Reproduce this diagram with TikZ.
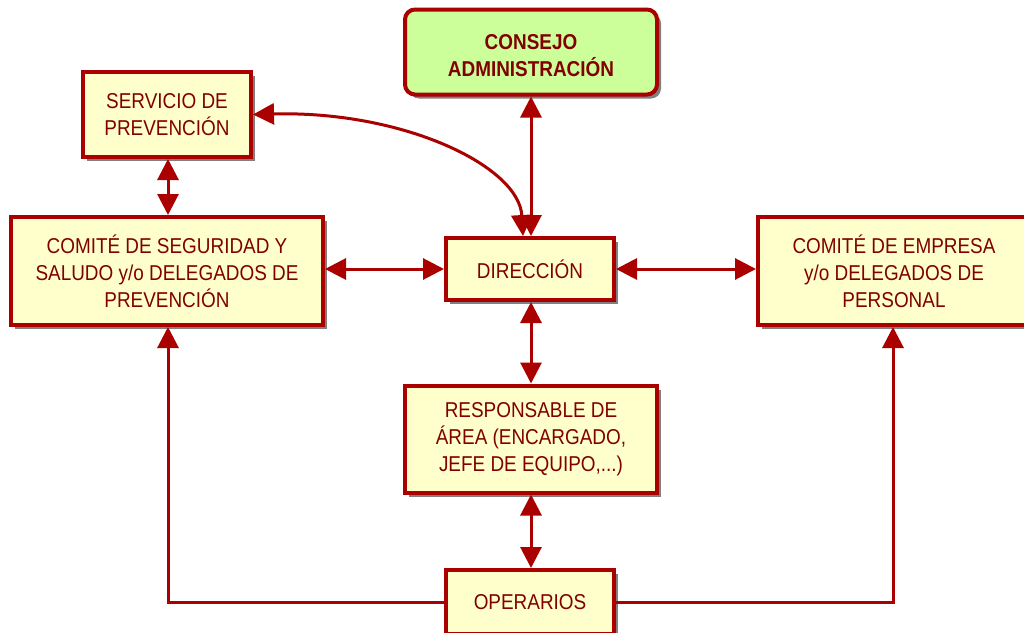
\documentclass[tikz,border=0pt]{standalone}
\usepackage{fontspec}
\setmainfont{Liberation Sans}[FakeStretch=0.88]
\usetikzlibrary{arrows.meta,shadows}
\definecolor{frame}{RGB}{170,0,0}
\definecolor{ink}{RGB}{128,0,0}
\definecolor{paper}{RGB}{255,255,204}
\definecolor{leaf}{RGB}{204,255,153}
\tikzset{
  boxfont/.style={font=\fontsize{21.5}{27}\selectfont},
  box/.style={draw=frame, line width=4pt, fill=paper, text=ink, align=center,
    inner sep=0pt, boxfont,
    drop shadow={shadow xshift=4pt, shadow yshift=-4pt, fill=black!50, opacity=1}},
  link/.style={draw=frame, line width=3pt},
  tip/.tip={Triangle[length=21pt,width=21pt]},
  both/.style={link, tip-tip},
  one/.style={link, -tip},
}
\begin{document}
\begin{tikzpicture}[x=1pt,y=-1pt]
\useasboundingbox (0,0) rectangle (1024,632);
\clip (0,0) rectangle (1024,632);
\fill[white] (0,0) rectangle (1024,632);

% boxes
\node[box, fill=leaf, rounded corners=10pt, minimum width=252pt, minimum height=85pt] (cons) at (531,52) {};
\node[text=ink, align=center, inner sep=0pt, font=\fontsize{21.5}{27}\selectfont\bfseries]
  (constext) at (531,56) {CONSEJO\\ADMINISTRACIÓN};
\node[box, minimum width=168pt, minimum height=85pt] (serv) at (167,114.5) {SERVICIO DE\\PREVENCIÓN};
\node[box, minimum width=312pt, minimum height=108pt] (cseg) at (167,271) {COMITÉ DE SEGURIDAD Y\\SALUDO y/o DELEGADOS DE\\PREVENCIÓN};
\node[box, minimum width=168pt, minimum height=62pt] (dir) at (530,269) {DIRECCIÓN};
\node[box, minimum width=272pt, minimum height=108pt] (cemp) at (894,271) {COMITÉ DE EMPRESA\\y/o DELEGADOS DE\\PERSONAL};
\node[box, minimum width=252pt, minimum height=107pt] (resp) at (531,439) {RESPONSABLE DE\\ÁREA (ENCARGADO,\\JEFE DE EQUIPO,...)};
\node[box, minimum width=168pt, minimum height=64pt] (oper) at (530,602) {OPERARIOS};

% connectors
\draw[both] (cons.south -| 531,0) -- (dir.north -| 531,0);
\draw[both] (serv.east) .. controls +(150,-4) and +(-4,-70) .. ([xshift=-7pt]dir.north);
\draw[both] (serv.south -| 168,0) -- (cseg.north -| 168,0);
\draw[both] (dir.west -| cseg.east) -- (dir.west);
\draw[both] (dir.east) -- (dir.east -| cemp.west);
\draw[both] (dir.south -| 531,0) -- (resp.north -| 531,0);
\draw[both] (resp.south -| 531,0) -- (oper.north -| 531,0);
\draw[one] (oper.west) -| (cseg.south -| 168,0);
\draw[one] (oper.east) -| (cemp.south -| 893,0);
\end{tikzpicture}
\end{document}
